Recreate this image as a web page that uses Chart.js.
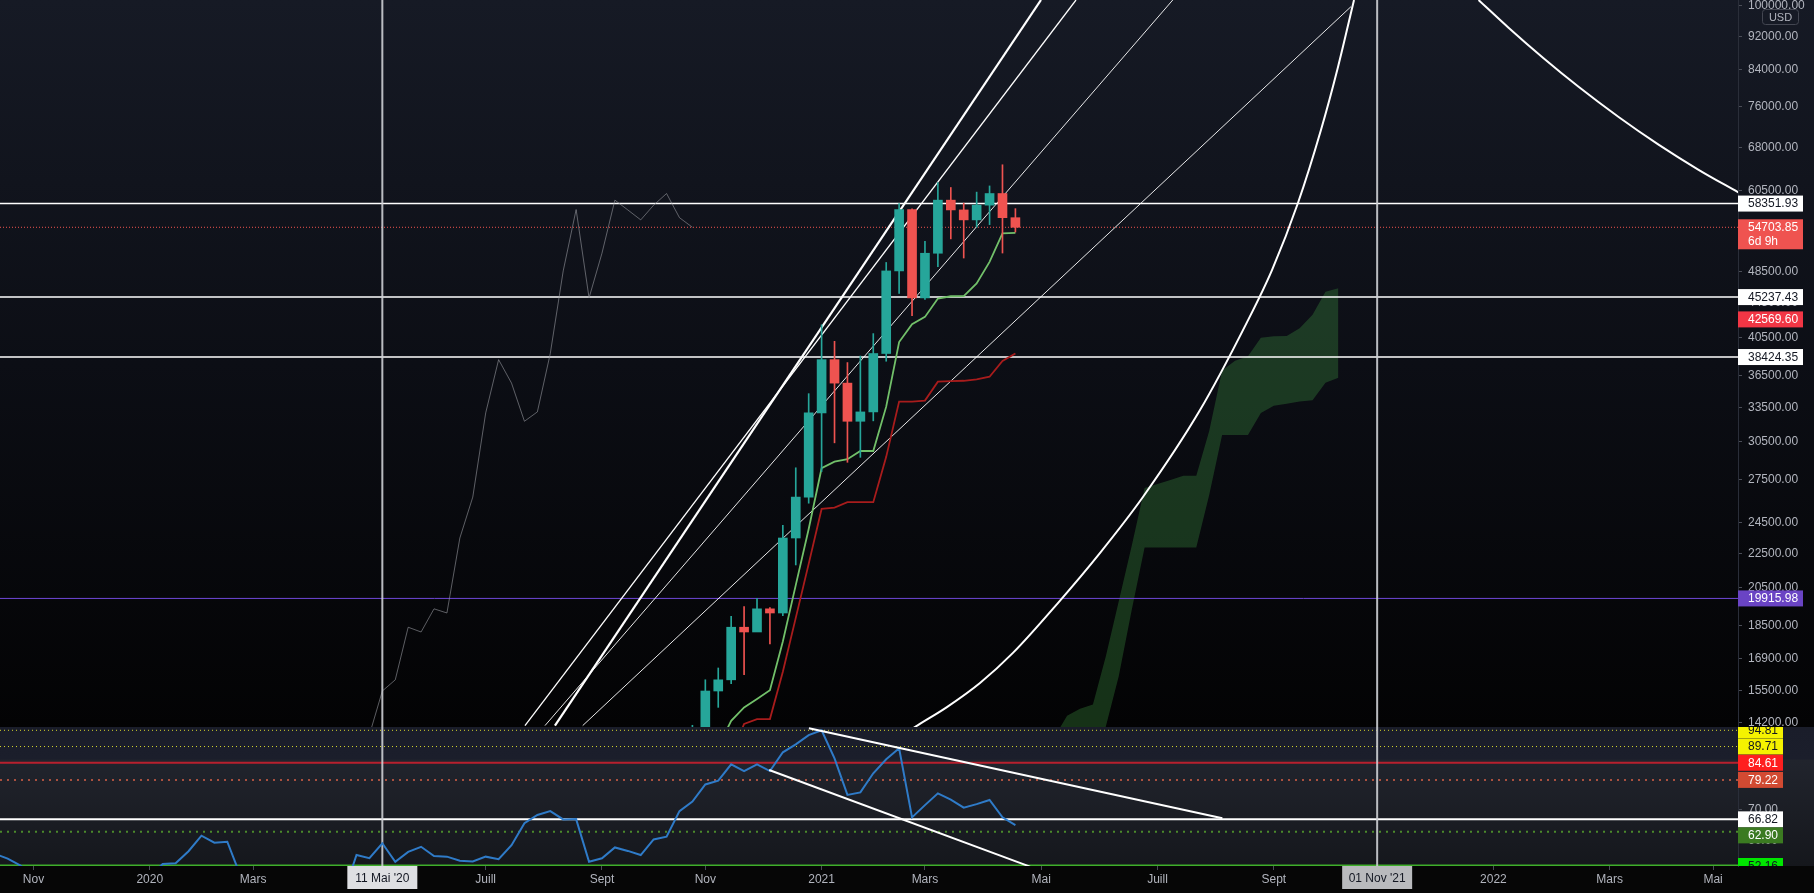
<!DOCTYPE html>
<html>
<head>
<meta charset="utf-8">
<script src="https://cdn.jsdelivr.net/npm/chart.js@4.4.1/dist/chart.umd.min.js"></script>
<style>
  html, body { margin: 0; padding: 0; background: #000; overflow: hidden; }
  #wrap { position: relative; width: 1814px; height: 893px; }
  canvas { position: absolute; left: 0; }
  #main { top: 0; width: 1814px; height: 727px; }
  #rsi { top: 727px; width: 1814px; height: 166px; }
</style>
</head>
<body>
<div id="wrap">
  <canvas id="main" width="1814" height="727"></canvas>
  <canvas id="rsi" width="1814" height="166"></canvas>
</div>
<script>
// x axis unit = weeks counted from the weekly bar of 4 Nov 2019
const ORIGIN = '2019-11-04';
const weekOf = d => (Date.parse(d) - Date.parse(ORIGIN)) / 6048e5;

// weekly BTC/USD candles
const candleStart = '2020-10-26';
const opens  = [13031, 13737, 15479, 15957, 18414, 18177, 19359, 19142, 23477, 26243, 33000, 38150, 35791, 32259, 33092, 38795, 48577, 57408, 45136, 50971, 58900, 57351, 55817, 58100, 59970, 56150];
const highs  = [14100, 15960, 16480, 18965, 19484, 19916, 19420, 24295, 28422, 34778, 41950, 40100, 37850, 38531, 40955, 49707, 58352, 57533, 52640, 61788, 60960, 58420, 60200, 61220, 64854, 57550];
const lows   = [12750, 13525, 14805, 15793, 16188, 18330, 17600, 19000, 21815, 25810, 28130, 30420, 28850, 29241, 32296, 37988, 45700, 43000, 44950, 49150, 53000, 50313, 54700, 55100, 51000, 54000];
const closes = [13737, 15479, 15957, 18414, 18177, 19359, 19142, 23477, 26243, 33000, 38150, 35791, 32259, 33092, 38795, 48577, 57408, 45136, 50971, 58900, 57351, 55817, 58100, 59970, 56150, 54703.85];

// ichimoku
const tenkanStart = '2020-11-09';
const tenkan = [13300, 14270, 14800, 15150, 15510, 17710, 20650, 24060, 28390, 28900, 29090, 29750, 29750, 33570, 40030, 42020, 42860, 45060, 45340, 45360, 46940, 49790, 53800, 53870];
const kijunStart = '2020-11-16';
const kijun = [13000, 14150, 14340, 14340, 16310, 18890, 21880, 25410, 25500, 25880, 25880, 25880, 29280, 34030, 34030, 34130, 35930, 35990, 36020, 36160, 36420, 38020, 38790];
const cloudStart = '2021-05-10';
const spanA = [13635, 14475, 14745, 14925, 17010, 19770, 22970, 26900, 27200, 27485, 27815, 27815, 31425, 37030, 38025, 38495, 40495, 40665, 40690, 41550, 43105, 45910, 46330];
const spanB = [11380, 11640, 11860, 11860, 14050, 16110, 19290, 22875, 22875, 22875, 22875, 22875, 26400, 31076, 31076, 31076, 32990, 33650, 33840, 34040, 34150, 35830, 36320];
const chikouShift = -25;

// RSI (weekly)
const rsiStart = '2019-10-14';
const rsi = [56.0, 54.5, 52.3, 49.0, 48.0, 47.0, 48.0, 47.5, 48.5, 49.5,
  49.0, 50.0, 49.0, 52.8, 53.0, 56.8, 61.7, 59.5, 59.8, 49.3,
  42.0, 38.0, 40.0, 44.0, 46.0, 45.0, 47.0, 43.5, 55.6, 54.6,
  59.3, 53.5, 56.6, 58.2, 55.3, 55.1, 53.8, 53.6, 55.1, 54.3,
  58.7, 65.6, 68.2, 69.4, 66.8, 66.9, 53.5, 54.6, 58.0, 56.9,
  55.6, 60.5, 61.4, 69.4, 72.4, 77.8, 79.0, 84.1, 82.0, 84.1,
  82.0, 87.9, 90.4, 93.3, 94.81, 86.0, 74.5, 75.3, 81.3, 85.7,
  89.15, 67.45, 71.3, 75.0, 73.05, 70.5, 71.6, 72.9, 67.45, 65.0];

// drawings, as [week, value] anchors
const fanLines = [
  [[38.04, 14088], [80.69, 101565]],
  [[40.36, 14088], [77.98, 101565]],
  [[39.59, 14088], [88.18, 101565]],
  [[42.51, 14088], [101.97, 99730]]
];
const arcLow = [[66.70, 13545], [68.46, 14108], [70.70, 14816], [73.26, 15820], [75.81, 17170], [79.29, 19667], [82.54, 22534], [85.87, 26250], [90.29, 33260], [93.93, 42260], [95.86, 48690], [97.87, 58440], [99.65, 71292], [100.97, 84640], [102.21, 101565]];
const arcHigh = [[111.85, 101565], [114.17, 94182], [116.88, 86674], [119.59, 80189], [122.69, 73861], [125.78, 68508], [128.88, 63969], [131.96, 60150]];
const rsiTrendLines = [
  [[60.02, 95.44], [92.02, 67.14]],
  [[56.94, 82.33], [77.13, 51.98]]
];

const priceLevels = [58351.93, 54703.85, 45237.43, 38424.35, 19915.98];
const hiddenLevel = 42569.60;
const rsiLevels = [94.81, 89.71, 84.61, 79.22, 66.82, 62.90, 52.16];
const markerDates = ['2020-05-11', '2021-11-01'];
const markerLabels = ["11 Mai '20", "01 Nov '21"];

const priceTicks = [100000, 92000, 84000, 76000, 68000, 60500, 54500, 48500, 44500, 40500, 36500, 33500, 30500, 27500, 24500, 22500, 20500, 18500, 16900, 15500, 14200];
const rsiTicks = [90, 80, 70, 60];
const xTickDates = ['2019-11-04', '2020-01-06', '2020-03-02', '2020-07-06', '2020-09-07', '2020-11-02', '2021-01-04', '2021-03-01', '2021-05-03', '2021-07-05', '2021-09-06', '2022-01-03', '2022-03-07', '2022-05-02'];
const xTickLabels = ['Nov', '2020', 'Mars', 'Juill', 'Sept', 'Nov', '2021', 'Mars', 'Mai', 'Juill', 'Sept', '2022', 'Mars', 'Mai'];

// visible ranges
const X_MIN = -2.593, X_MAX = 131.93;
const PRICE_MIN = 14034, PRICE_MAX = 101565;
const RSI_MIN = 52.16, RSI_MAX = 95.85;

Chart.defaults.font.family = "'Liberation Sans', Arial, sans-serif";
Chart.defaults.font.size = 12;
Chart.defaults.color = '#b2b5be';

const FONT = "12px 'Liberation Sans', Arial, sans-serif";
const UP = '#26a69a', DOWN = '#ef5350';

const series = (start, arr, shift = 0) => arr.map((y, i) => ({ x: weekOf(start) + i + shift, y }));
const pts = arr => arr.map(([x, y]) => ({ x, y }));
const line = (data, color, width, extra) => Object.assign({
  type: 'line', data, borderColor: color, borderWidth: width, pointRadius: 0, tension: 0, fill: false
}, extra || {});
const hLine = (v, color, width, dash, order) => line([{ x: X_MIN, y: v }, { x: X_MAX, y: v }], color, width, { borderDash: dash || [], order: order || 6 });
const vLine = (d, lo, hi) => line([{ x: weekOf(d), y: lo }, { x: weekOf(d), y: hi }], 'rgba(205,207,212,0.9)', 2, { order: 3 });

const candleX = opens.map((_, i) => weekOf(candleStart) + i);
const candleColors = opens.map((o, i) => closes[i] >= o ? UP : DOWN);

function drawTags(chart, items, boxWidth) {
  const { ctx, chartArea } = chart;
  const y = chart.scales.y;
  const left = chartArea.right;
  ctx.save();
  ctx.beginPath();
  ctx.rect(left, chartArea.top, chart.width - left, chartArea.bottom - chartArea.top);
  ctx.clip();
  ctx.font = FONT;
  ctx.textBaseline = 'middle';
  let prevBottom = -Infinity;
  items.forEach(t => {
    const cy = y.getPixelForValue(t.value);
    const h = t.sub ? 30 : 16;
    let top = cy - 8;
    if (top < prevBottom) top = prevBottom;
    prevBottom = top + h;
    ctx.fillStyle = t.bg;
    ctx.fillRect(left, top, boxWidth, h);
    ctx.fillStyle = t.fg;
    ctx.fillText(t.value.toFixed(2), left + 10, top + 8.5);
    if (t.sub) ctx.fillText(t.sub, left + 10, top + 22);
  });
  ctx.restore();
}

const mainDecor = {
  id: 'mainDecor',
  beforeDraw(chart) {
    const { ctx, width, height } = chart;
    const g = ctx.createLinearGradient(0, 0, 0, height);
    g.addColorStop(0, '#161a25');
    g.addColorStop(0.5, '#0c0e15');
    g.addColorStop(1, '#030304');
    ctx.save();
    ctx.fillStyle = g;
    ctx.fillRect(0, 0, width, height);
    ctx.restore();
  },
  afterDraw(chart) {
    drawTags(chart, [
      { value: priceLevels[0], bg: '#ffffff', fg: '#131722' },
      { value: priceLevels[1], bg: '#ef5350', fg: '#ffffff', sub: '6d 9h' },
      { value: priceLevels[2], bg: '#ffffff', fg: '#131722' },
      { value: hiddenLevel, bg: '#f23645', fg: '#ffffff' },
      { value: priceLevels[3], bg: '#ffffff', fg: '#131722' },
      { value: priceLevels[4], bg: '#6a44c4', fg: '#ffffff' }
    ], 65);
    // currency badge
    const { ctx, chartArea } = chart;
    const x0 = chartArea.right + 24, y0 = 9;
    ctx.save();
    ctx.fillStyle = '#161a25';
    ctx.strokeStyle = '#434651';
    ctx.lineWidth = 1;
    ctx.beginPath();
    ctx.roundRect(x0 + 0.5, y0 + 0.5, 36, 15, 3);
    ctx.fill();
    ctx.stroke();
    ctx.fillStyle = '#b2b5be';
    ctx.font = "11px 'Liberation Sans', Arial, sans-serif";
    ctx.textAlign = 'center';
    ctx.textBaseline = 'middle';
    ctx.fillText('USD', x0 + 18.5, y0 + 8.5);
    ctx.restore();
  }
};

new Chart(document.getElementById('main').getContext('2d'), {
  type: 'line',
  data: {
    datasets: [
      { type: 'bar', data: candleX.map((x, i) => ({ x, y: [opens[i], closes[i]] })), backgroundColor: candleColors, barThickness: 9, grouped: false, minBarLength: 1, order: 0 },
      { type: 'bar', data: candleX.map((x, i) => ({ x, y: [lows[i], highs[i]] })), backgroundColor: candleColors, barThickness: 1, grouped: false, order: 1 },
      line(series(tenkanStart, tenkan), '#72c06a', 1.8, { order: 2 }),
      line(series(kijunStart, kijun), '#a81c1c', 1.8, { order: 2 }),
      line(series(candleStart, closes, chikouShift), 'rgba(150,152,158,0.6)', 1, { order: 5 }),
      line(series(cloudStart, spanA), 'rgba(0,0,0,0)', 0, { order: 9 }),
      line(series(cloudStart, spanB), 'rgba(0,0,0,0)', 0, { order: 9, fill: '-1', backgroundColor: 'rgba(67,160,71,0.3)' }),
      line(pts(fanLines[0]), '#ffffff', 1.3, { order: 4 }),
      line(pts(fanLines[1]), '#ffffff', 2.2, { order: 4 }),
      line(pts(fanLines[2]), 'rgba(255,255,255,0.9)', 1, { order: 4 }),
      line(pts(fanLines[3]), 'rgba(255,255,255,0.9)', 1, { order: 4 }),
      line(pts(arcLow), '#ffffff', 2, { order: 4, cubicInterpolationMode: 'monotone' }),
      line(pts(arcHigh), '#ffffff', 2, { order: 4, cubicInterpolationMode: 'monotone' }),
      hLine(priceLevels[0], '#ffffff', 1.5),
      hLine(priceLevels[1], '#ef5350', 1, [1, 2]),
      hLine(priceLevels[2], '#ffffff', 1.5),
      hLine(priceLevels[3], '#ffffff', 1.5),
      hLine(priceLevels[4], '#7048d8', 1),
      vLine(markerDates[0], PRICE_MIN, PRICE_MAX),
      vLine(markerDates[1], PRICE_MIN, PRICE_MAX)
    ]
  },
  options: {
    responsive: false,
    animation: false,
    layout: { padding: 0 },
    plugins: { legend: { display: false }, tooltip: { enabled: false } },
    scales: {
      x: { type: 'linear', min: X_MIN, max: X_MAX, offset: false, grid: { offset: false }, display: false },
      y: {
        type: 'logarithmic', position: 'right', min: PRICE_MIN, max: PRICE_MAX,
        afterBuildTicks: s => { s.ticks = priceTicks.map(v => ({ value: v })); },
        afterFit: s => { s.width = 76; s.paddingTop = 0; s.paddingBottom = 0; },
        ticks: { autoSkip: false, padding: 6, color: '#b2b5be', callback: v => Number(v).toFixed(2) },
        grid: { display: true, drawOnChartArea: false, tickLength: 4, color: '#4a4d57' },
        border: { display: true, color: '#2a2e39' }
      }
    }
  },
  plugins: [mainDecor]
});

const rsiDecor = {
  id: 'rsiDecor',
  beforeDraw(chart) {
    const { ctx, width, height, chartArea } = chart;
    ctx.save();
    ctx.fillStyle = '#060606';
    ctx.fillRect(0, 0, width, height);
    const g = ctx.createLinearGradient(0, chartArea.top, 0, chartArea.bottom);
    g.addColorStop(0, '#1a1d2a');
    g.addColorStop(0.23, '#1b1e2b');
    g.addColorStop(0.24, '#21242d');
    g.addColorStop(1, '#15171c');
    ctx.fillStyle = g;
    ctx.fillRect(0, chartArea.top, width, chartArea.bottom - chartArea.top);
    ctx.restore();
  },
  afterDraw(chart) {
    drawTags(chart, [
      { value: rsiLevels[0], bg: '#f5f200', fg: '#131722' },
      { value: rsiLevels[1], bg: '#f5f200', fg: '#131722' },
      { value: rsiLevels[2], bg: '#ff1f1f', fg: '#ffffff' },
      { value: rsiLevels[3], bg: '#d24a32', fg: '#ffffff' },
      { value: rsiLevels[4], bg: '#ffffff', fg: '#131722' },
      { value: rsiLevels[5], bg: '#3b7a21', fg: '#ffffff' },
      { value: rsiLevels[6], bg: '#00e600', fg: '#131722' }
    ], 45);
    const { ctx, chartArea } = chart;
    const x = chart.scales.x;
    const boxColors = ['#dedfe2', '#b9babd'];
    ctx.save();
    ctx.font = FONT;
    ctx.textAlign = 'center';
    ctx.textBaseline = 'middle';
    markerDates.forEach((d, i) => {
      const cx = x.getPixelForValue(weekOf(d));
      ctx.fillStyle = boxColors[i];
      ctx.fillRect(cx - 35, chartArea.bottom, 70, 23);
      ctx.fillStyle = '#131722';
      ctx.fillText(markerLabels[i], cx, chartArea.bottom + 13);
    });
    ctx.restore();
  }
};

new Chart(document.getElementById('rsi').getContext('2d'), {
  type: 'line',
  data: {
    datasets: [
      line(series(rsiStart, rsi), '#2f7bc8', 2, { order: 1 }),
      line(pts(rsiTrendLines[0]), '#ffffff', 2, { order: 0 }),
      line(pts(rsiTrendLines[1]), '#ffffff', 2, { order: 0 }),
      hLine(rsiLevels[0], '#d6d62c', 1, [1, 3]),
      hLine(rsiLevels[1], '#d6d62c', 1, [1, 3]),
      hLine(rsiLevels[2], '#b8202e', 2),
      hLine(rsiLevels[3], '#a9503f', 2, [2, 5]),
      hLine(rsiLevels[4], '#ffffff', 2),
      hLine(rsiLevels[5], '#4b8a2b', 2, [2, 5]),
      hLine(rsiLevels[6], '#3fae2a', 3),
      vLine(markerDates[0], RSI_MIN, RSI_MAX),
      vLine(markerDates[1], RSI_MIN, RSI_MAX)
    ]
  },
  options: {
    responsive: false,
    animation: false,
    layout: { padding: 0 },
    plugins: { legend: { display: false }, tooltip: { enabled: false } },
    scales: {
      x: {
        type: 'linear', min: X_MIN, max: X_MAX, position: 'bottom', offset: false,
        afterBuildTicks: s => { s.ticks = xTickDates.map(d => ({ value: weekOf(d) })); },
        afterFit: s => { s.height = 27; s.paddingLeft = 0; s.paddingRight = 0; },
        ticks: { autoSkip: false, maxRotation: 0, padding: 2, color: '#b2b5be', callback: (v, i) => xTickLabels[i] },
        grid: { display: true, drawOnChartArea: false, tickLength: 4, color: '#4a4d57' },
        border: { display: false }
      },
      y: {
        type: 'linear', position: 'right', min: RSI_MIN, max: RSI_MAX,
        afterBuildTicks: s => { s.ticks = rsiTicks.map(v => ({ value: v })); },
        afterFit: s => { s.width = 76; s.paddingTop = 0; s.paddingBottom = 0; },
        ticks: { autoSkip: false, padding: 6, color: '#b2b5be', callback: v => Number(v).toFixed(2) },
        grid: { display: true, drawOnChartArea: false, tickLength: 4, color: '#4a4d57' },
        border: { display: true, color: '#2a2e39' }
      }
    }
  },
  plugins: [rsiDecor]
});
</script>
</body>
</html>
